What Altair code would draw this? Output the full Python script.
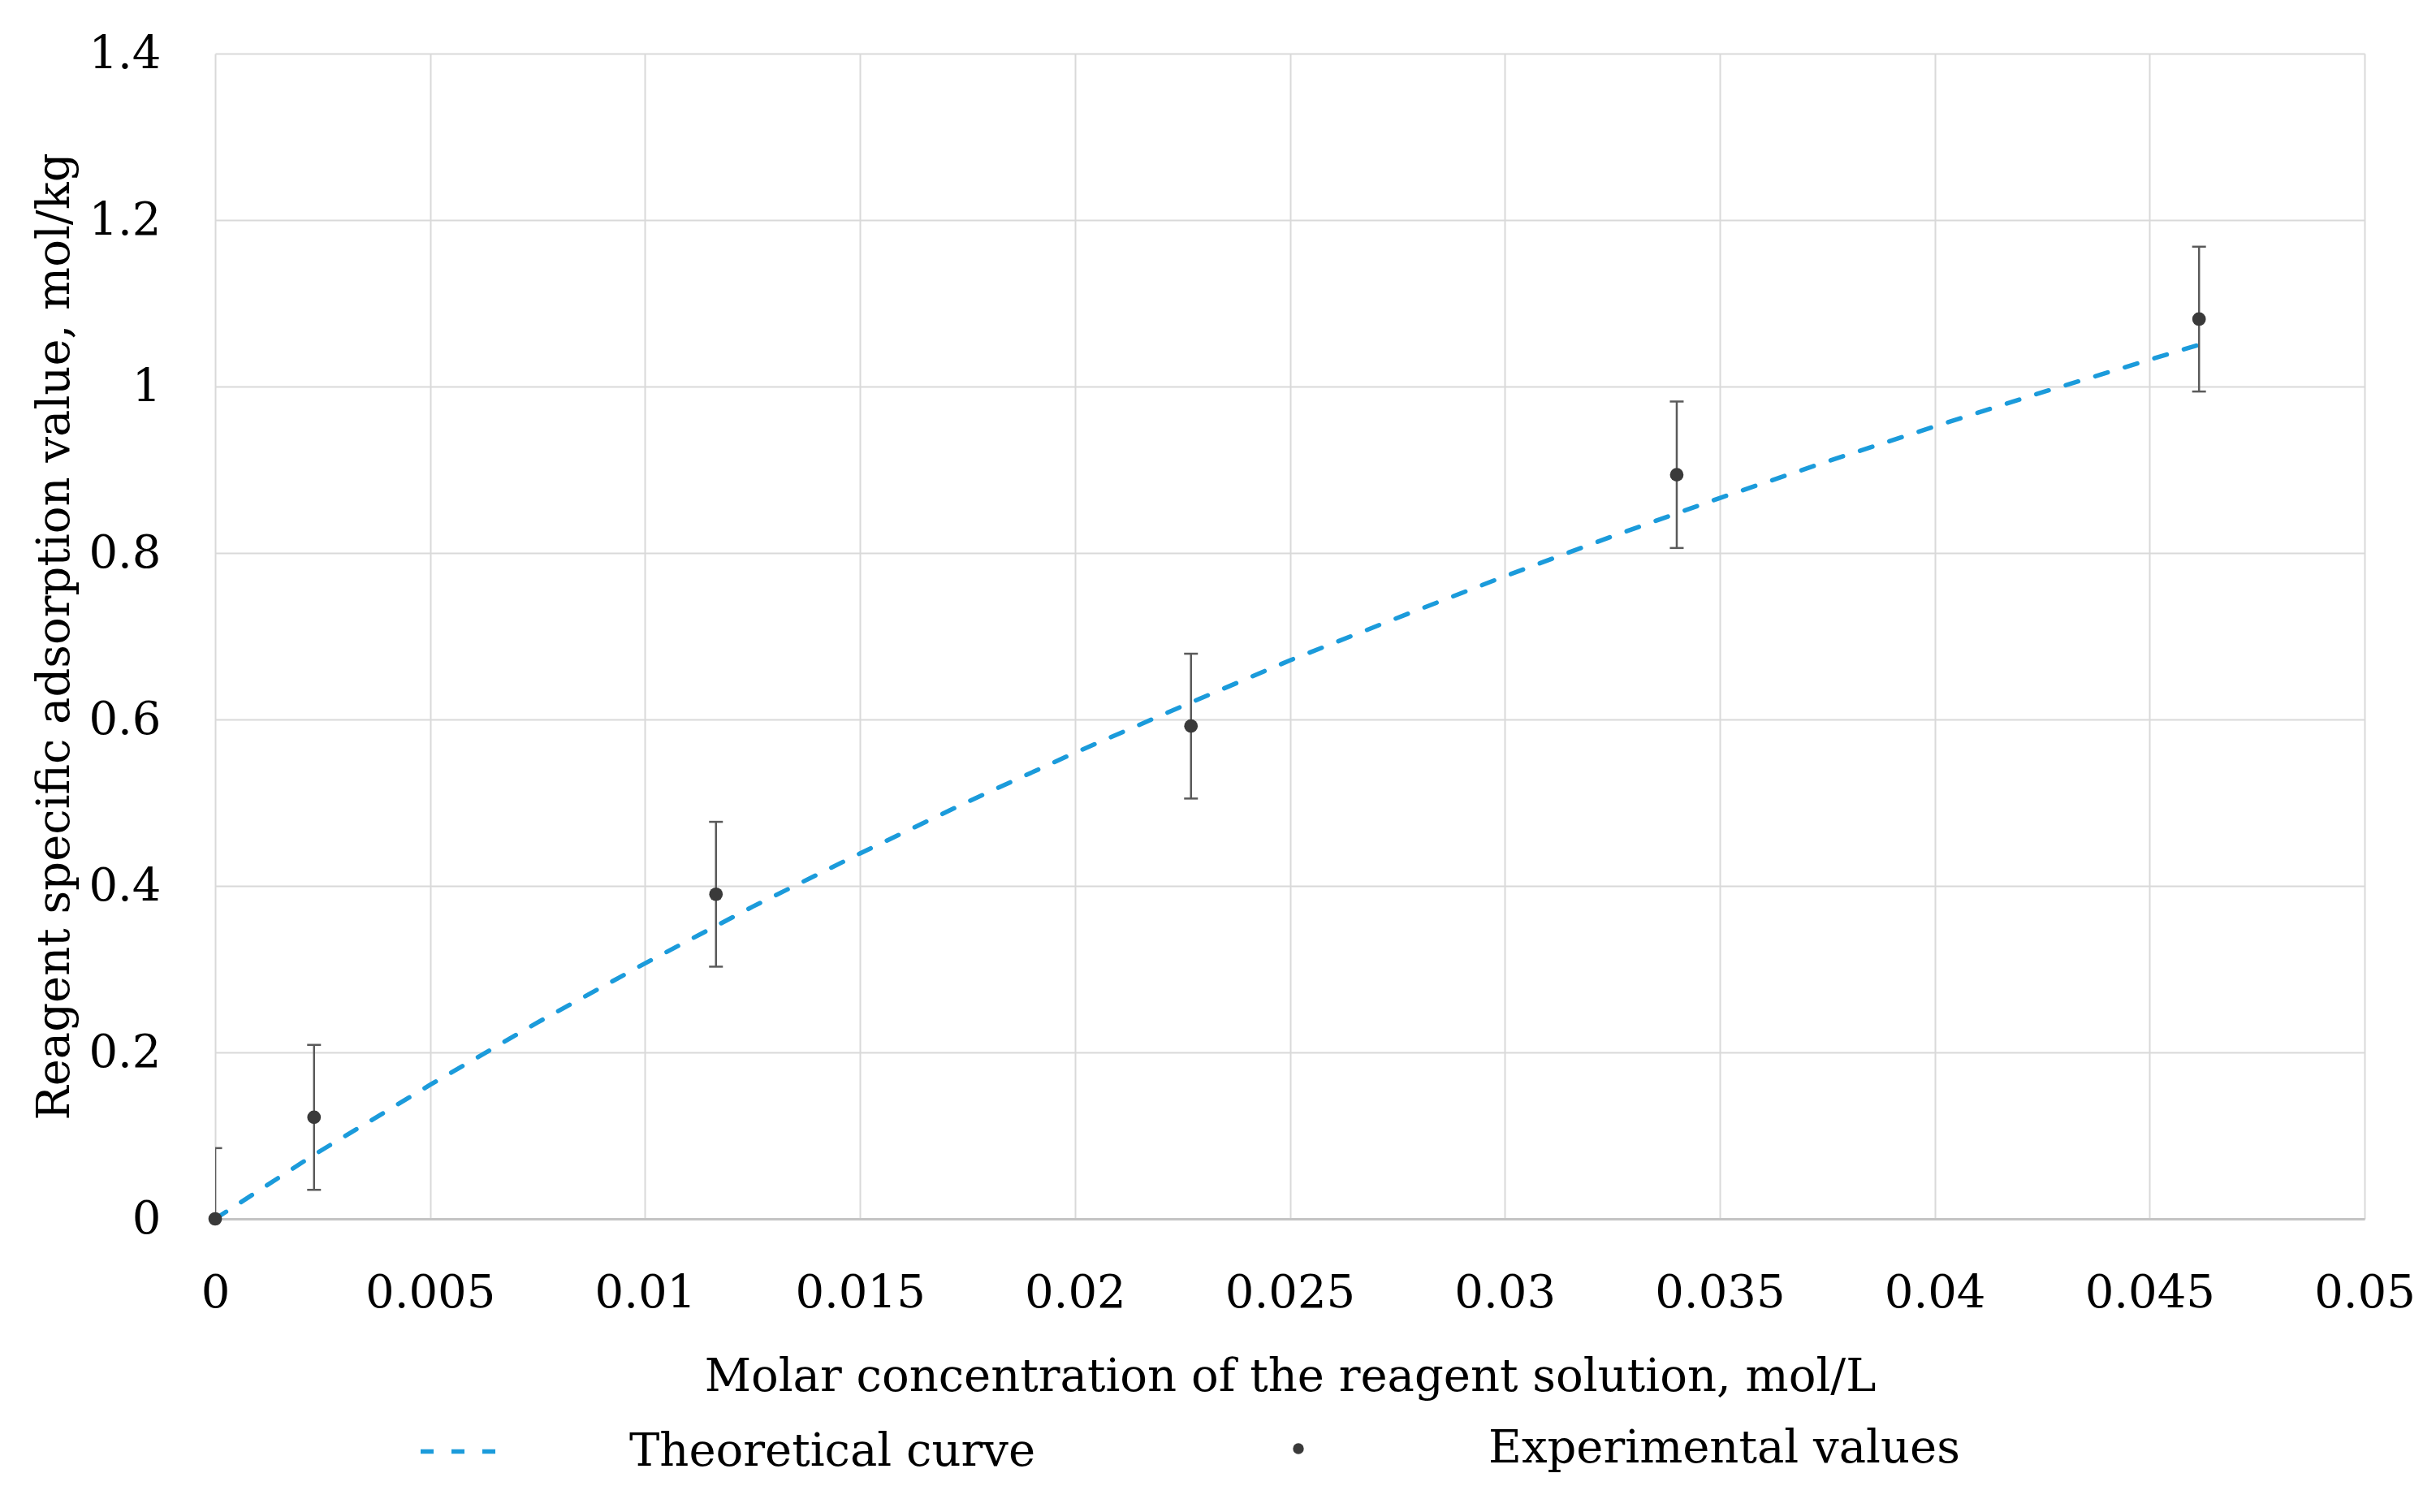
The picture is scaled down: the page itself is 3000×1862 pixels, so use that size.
import altair as alt
import pandas as pd

conc_exp = [0.0, 0.0023, 0.01165, 0.0227, 0.0340, 0.04615]
ads_exp = [0.0, 0.122, 0.390, 0.592, 0.894, 1.081]
err_exp = [0.085, 0.087, 0.087, 0.087, 0.088, 0.087]

# Theoretical curve
conc_theory = [0.0, 0.0023, 0.005, 0.0075, 0.01, 0.0125, 0.015, 0.0175, 0.02,
               0.0225, 0.025, 0.0275, 0.03, 0.0325, 0.035, 0.0375, 0.04, 0.0425, 0.0462]
ads_theory = [0.0, 0.077, 0.161, 0.236, 0.307, 0.375, 0.439, 0.501, 0.560,
              0.616, 0.671, 0.722, 0.772, 0.820, 0.866, 0.910, 0.952, 0.993, 1.051]

x_ticks = [0, 0.005, 0.01, 0.015, 0.02, 0.025, 0.03, 0.035, 0.04, 0.045, 0.05]
y_ticks = [0, 0.2, 0.4, 0.6, 0.8, 1.0, 1.2, 1.4]

x_title = "Molar concentration of the reagent solution, mol/L"
y_title = "Reagent specific adsorption value, mol/kg"
curve_label = "Theoretical curve"
exp_label = "Experimental values"

df_exp = pd.DataFrame({"conc": conc_exp, "ads": ads_exp, "err": err_exp})
df_exp["lo"] = df_exp["ads"] - df_exp["err"]
df_exp["hi"] = df_exp["ads"] + df_exp["err"]
df_exp["exp"] = exp_label
df_th = pd.DataFrame({"conc": conc_theory, "ads": ads_theory})
df_th["curve"] = curve_label

FONT = "DejaVu Serif"
FS = 56
BLUE = "#1b9bdb"
DARK = "#3a3a3a"
ERR = "#5a5a5a"
W, H = 2647, 1435

xscale = alt.Scale(domain=[0, 0.05], nice=False, zero=False)
yscale = alt.Scale(domain=[0, 1.4], nice=False)

x_axis = alt.Axis(values=x_ticks, format="~g", title=x_title, grid=True,
                  gridColor="#d9d9d9", gridWidth=2, ticks=False, tickSize=0,
                  domain=True, domainColor="#c4c4c4", domainWidth=3,
                  labelFont=FONT, labelFontSize=FS, labelColor="black",
                  labelPadding=64, labelFlush=False, labelOverlap=False,
                  titleFont=FONT, titleFontSize=FS, titleColor="black",
                  titleFontWeight="normal", titleX=W / 2, titleY=194,
                  titleAlign="center", titleBaseline="middle")
y_axis = alt.Axis(values=y_ticks, format="~g", title=y_title, grid=True,
                  gridColor="#d9d9d9", gridWidth=2, ticks=False, tickSize=0,
                  domain=False,
                  labelFont=FONT, labelFontSize=FS, labelColor="black",
                  labelPadding=67, labelFlush=False, labelOverlap=False,
                  titleFont=FONT, titleFontSize=FS, titleColor="black",
                  titleFontWeight="normal", titleX=-198, titleY=H / 2,
                  titleAngle=-90, titleAlign="center", titleBaseline="middle")

X = alt.X("conc:Q", scale=xscale, axis=x_axis, title=x_title)

line = alt.Chart(df_th).mark_line(color=BLUE, strokeWidth=5.5, strokeCap="round").encode(
    x=X,
    y=alt.Y("ads:Q", scale=yscale, axis=y_axis, title=y_title),
    strokeDash=alt.StrokeDash(
        "curve:N",
        scale=alt.Scale(domain=[curve_label], range=[[16, 22]]),
        legend=alt.Legend(orient="none", legendX=250, legendY=1670, title=None,
                          symbolType="stroke", symbolSize=9409,
                          symbolStrokeWidth=5.5, symbolStrokeColor=BLUE,
                          labelFont=FONT, labelFontSize=FS, labelColor="black",
                          labelOffset=157, labelLimit=0),
    ),
)

bars = alt.Chart(df_exp).mark_rule(color=ERR, strokeWidth=2.5, clip=True).encode(
    x=X,
    y=alt.Y("lo:Q", scale=yscale, axis=y_axis, title=y_title),
    y2="hi:Q",
)
cap_lo = alt.Chart(df_exp).mark_tick(color=ERR, orient="horizontal", size=17,
                                     thickness=2.5, clip=True, opacity=1).encode(
    x=X,
    y=alt.Y("lo:Q", scale=yscale, axis=y_axis, title=y_title),
)
cap_hi = alt.Chart(df_exp).mark_tick(color=ERR, orient="horizontal", size=17,
                                     thickness=2.5, clip=True, opacity=1).encode(
    x=X,
    y=alt.Y("hi:Q", scale=yscale, axis=y_axis, title=y_title),
)

points = alt.Chart(df_exp).mark_point(filled=True, size=280, color=DARK,
                                      opacity=1).encode(
    x=X,
    y=alt.Y("ads:Q", scale=yscale, axis=y_axis, title=y_title),
    shape=alt.Shape(
        "exp:N",
        scale=alt.Scale(domain=[exp_label], range=["circle"]),
        legend=alt.Legend(orient="none", legendX=1306, legendY=1690, title=None,
                          symbolSize=180, symbolFillColor=DARK,
                          symbolStrokeWidth=0,
                          labelFont=FONT, labelFontSize=FS, labelColor="black",
                          labelOffset=206, labelLimit=0),
    ),
)

chart = alt.layer(line, bars, cap_lo, cap_hi, points).properties(
    width=W, height=H,
    autosize=alt.AutoSizeParams(type="none"),
    padding={"left": 257, "top": 58, "right": 75, "bottom": 340},
    background="white",
).configure_view(stroke=None).resolve_legend(shape="independent", strokeDash="independent")

chart.save("out.html", embed_options={"renderer": "svg", "actions": False})
